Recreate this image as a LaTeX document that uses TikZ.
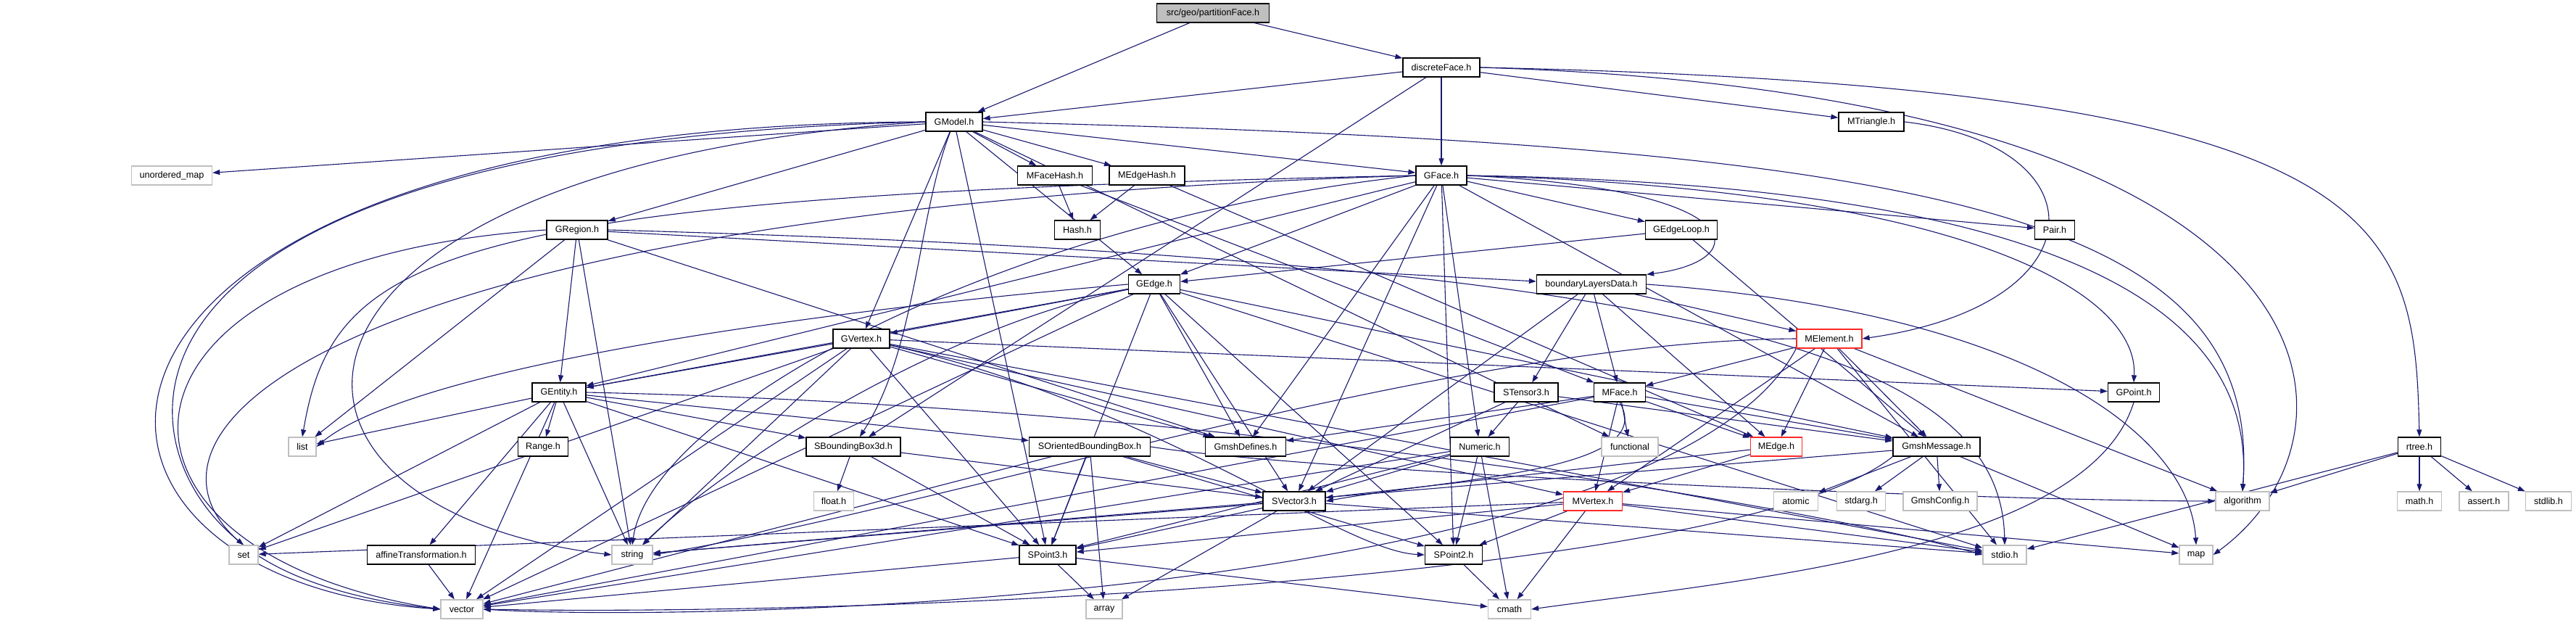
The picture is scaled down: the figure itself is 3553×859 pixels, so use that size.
\documentclass[tikz,border=0pt]{standalone}
\usepackage{fontspec}
\setmainfont{Liberation Sans}
\definecolor{EdgeBlue}{RGB}{25,25,112}
\definecolor{SysGray}{RGB}{191,191,191}
\definecolor{TruncRed}{RGB}{255,40,40}
\usepackage{tikz}
\usetikzlibrary{arrows.meta, backgrounds}

\begin{document}
\begin{tikzpicture}[x=1pt, y=-1pt,
  hdr/.style={draw=black, fill=white, line width=1.3pt, minimum height=26pt,
              inner sep=0pt, font=\fontsize{12.6}{14}\selectfont},
  sys/.style={hdr, draw=SysGray},
  trunc/.style={hdr, draw=TruncRed},
  root/.style={hdr, fill=SysGray},
  dep/.style={draw=EdgeBlue, line width=1.1pt, -{Triangle[length=10pt, width=7pt]}}]
  \useasboundingbox (0,0) rectangle (3553,859);

  \node[root, minimum width=155pt] (partitionFace) at (1673,18) {src/geo/partitionFace.h};
  \node[hdr, minimum width=106pt] (discreteFace) at (1988,93) {discreteFace.h};
  \node[hdr, minimum width=78pt] (GModel) at (1316,168) {GModel.h};
  \node[hdr, minimum width=90pt] (MTriangle) at (2581,168) {MTriangle.h};
  \node[sys, minimum width=111pt] (unorderedmap) at (237,242) {unordered\_map};
  \node[hdr, minimum width=103pt] (MFaceHash) at (1455,242) {MFaceHash.h};
  \node[hdr, minimum width=104pt] (MEdgeHash) at (1582,242) {MEdgeHash.h};
  \node[hdr, minimum width=70pt] (GFace) at (1988,242) {GFace.h};
  \node[hdr, minimum width=84pt] (GRegion) at (796,317) {GRegion.h};
  \node[hdr, minimum width=63pt] (Hash) at (1486,317) {Hash.h};
  \node[hdr, minimum width=99pt] (GEdgeLoop) at (2319,317) {GEdgeLoop.h};
  \node[hdr, minimum width=55pt] (Pair) at (2834,317) {Pair.h};
  \node[hdr, minimum width=71pt] (GEdge) at (1592,392) {GEdge.h};
  \node[hdr, minimum width=151pt] (bLayers) at (2195,392) {boundaryLayersData.h};
  \node[hdr, minimum width=78pt] (GVertex) at (1188,467) {GVertex.h};
  \node[trunc, minimum width=90pt] (MElement) at (2523,467) {MElement.h};
  \node[hdr, minimum width=74pt] (GEntity) at (771,541) {GEntity.h};
  \node[hdr, minimum width=88pt] (STensor) at (2105,541) {STensor3.h};
  \node[hdr, minimum width=71pt] (MFace) at (2234,541) {MFace.h};
  \node[hdr, minimum width=71pt] (GPoint) at (2943,541) {GPoint.h};
  \node[sys, minimum width=38pt] (list) at (417,616) {list};
  \node[hdr, minimum width=69pt] (Range) at (749,616) {Range.h};
  \node[hdr, minimum width=130pt] (SBBox) at (1177,616) {SBoundingBox3d.h};
  \node[hdr, minimum width=167pt] (SOBBox) at (1503,616) {SOrientedBoundingBox.h};
  \node[hdr, minimum width=111pt] (GmshDefines) at (1718,616) {GmshDefines.h};
  \node[hdr, minimum width=81pt] (Numeric) at (2041,616) {Numeric.h};
  \node[sys, minimum width=78pt] (functional) at (2248,616) {functional};
  \node[trunc, minimum width=71pt] (MEdge) at (2450,616) {MEdge.h};
  \node[hdr, minimum width=120pt] (GmshMessage) at (2671,616) {GmshMessage.h};
  \node[hdr, minimum width=59pt] (rtree) at (3337,616) {rtree.h};
  \node[sys, minimum width=55pt] (float) at (1150,691) {float.h};
  \node[hdr, minimum width=86pt] (SVector) at (1785,691) {SVector3.h};
  \node[trunc, minimum width=81pt] (MVertex) at (2197,691) {MVertex.h};
  \node[sys, minimum width=61pt] (atomic) at (2477,691) {atomic};
  \node[sys, minimum width=67pt] (stdarg) at (2567,691) {stdarg.h};
  \node[sys, minimum width=102pt] (GmshConfig) at (2676,691) {GmshConfig.h};
  \node[sys, minimum width=74pt] (algorithm) at (3093,691) {algorithm};
  \node[sys, minimum width=61pt] (mathh) at (3337,691) {math.h};
  \node[sys, minimum width=68pt] (asserth) at (3426,691) {assert.h};
  \node[sys, minimum width=63pt] (stdlibh) at (3515,691) {stdlib.h};
  \node[sys, minimum width=40pt] (set) at (336,765) {set};
  \node[hdr, minimum width=149pt] (affine) at (581,765) {affineTransformation.h};
  \node[sys, minimum width=56pt] (string) at (872,765) {string};
  \node[hdr, minimum width=78pt] (SPoint3) at (1445,765) {SPoint3.h};
  \node[hdr, minimum width=79pt] (SPoint2) at (2005,765) {SPoint2.h};
  \node[sys, minimum width=60pt] (stdio) at (2765,765) {stdio.h};
  \node[sys, minimum width=46pt] (map) at (3029,765) {map};
  \node[sys, minimum width=58pt] (vector) at (637,840) {vector};
  \node[sys, minimum width=50pt] (array) at (1523,840) {array};
  \node[sys, minimum width=59pt] (cmath) at (2082,840) {cmath};

  \begin{scope}[on background layer]
    \foreach \s/\t in {partitionFace/GModel, partitionFace/discreteFace,
        discreteFace/GModel, discreteFace/GFace, discreteFace/MTriangle, discreteFace/SBBox,
        GModel/unorderedmap, GModel/MFaceHash, GModel/MEdgeHash, GModel/GFace, GModel/GRegion,
        GModel/GEdge, GModel/GVertex, GModel/SPoint3, GModel/functional,
        MFaceHash/Hash, MFaceHash/MFace, MEdgeHash/Hash, MEdgeHash/MEdge,
        GFace/GEdge, GFace/GEdgeLoop, GFace/Pair, GFace/GEntity, GFace/SPoint2,
        GFace/SVector, GFace/Numeric, GFace/GmshDefines, GFace/GmshMessage,
        GRegion/GEntity, GRegion/list, GRegion/string, GRegion/bLayers, GRegion/GmshDefines,
        GEdgeLoop/GEdge, GEdgeLoop/GmshMessage,
        GEdge/GVertex, GEdge/GEntity, GEdge/GmshDefines, GEdge/SVector, GEdge/SPoint3, GEdge/SPoint2,
        GEdge/vector, GEdge/stdio, GEdge/GmshMessage,
        GVertex/GEntity, GVertex/GPoint, GVertex/SPoint3, GVertex/GmshDefines,
        GVertex/string, GVertex/vector, GVertex/set, GVertex/stdio, GVertex/MVertex,
        bLayers/SVector, bLayers/STensor, bLayers/MElement, bLayers/MEdge, bLayers/MFace,
        MElement/MFace, MElement/MEdge, MElement/MVertex, MElement/GmshMessage, MElement/stdio,
        MElement/algorithm,
        GEntity/list, GEntity/Range, GEntity/set, GEntity/affine, GEntity/string, GEntity/vector,
        GEntity/SBBox, GEntity/SOBBox, GEntity/SPoint3,
        STensor/SVector, STensor/Numeric, STensor/GmshMessage,
        MFace/functional, MFace/MEdge, MFace/MVertex, MFace/GmshMessage, MFace/vector, MFace/GmshDefines,
        MEdge/MVertex, MEdge/SVector,
        MVertex/SPoint3, MVertex/SPoint2, MVertex/cmath, MVertex/stdio, MVertex/map, MVertex/set,
        GmshMessage/atomic, GmshMessage/stdarg, GmshMessage/GmshConfig, GmshMessage/map,
        GmshMessage/string,
        Numeric/SVector, Numeric/SPoint2, Numeric/SPoint3, Numeric/cmath, Numeric/vector,
        SBBox/float, SBBox/SPoint3, SBBox/SVector,
        SOBBox/SVector, SOBBox/SPoint3, SOBBox/SPoint2, SOBBox/vector, SOBBox/array,
        SVector/SPoint3, SVector/array, SVector/string, SVector/stdio,
        SPoint3/array, SPoint3/cmath, SPoint3/vector, SPoint2/cmath,
        rtree/algorithm, rtree/mathh, rtree/asserth, rtree/stdlibh, rtree/stdio,
        affine/vector}
      \draw[dep] (\s) -- (\t);

    \draw[dep] (GModel.west) .. controls (5,172) and (5,800) .. (vector.west);
    \draw[dep] (GModel.west) .. controls (130,195) and (150,600) .. (set.north);
    \draw[dep] (GModel.west) .. controls (330,230) and (300,700) .. (string.west);
    \draw[dep] (GModel) .. controls (1265,300) and (1265,480) .. (SBBox);
    \draw[dep] (GModel.east) .. controls (2700,200) and (3120,300) .. (algorithm.north);
    \draw[dep] (GFace.west) .. controls (60,300) and (50,780) .. (vector.west);
    \draw[dep] (GFace.west) .. controls (600,270) and (460,350) .. (list.north);
    \draw[dep] (GFace.west) .. controls (1400,300) and (900,560) .. (string.north);
    \draw[dep] (GFace.east) .. controls (2700,260) and (2950,400) .. (GPoint.north);
    \draw[dep] (GFace.east) .. controls (2420,260) and (2420,360) .. (bLayers.north east);
    \draw[dep] (GFace.east) .. controls (2900,255) and (3110,450) .. (algorithm.north);
    \draw[dep] (GRegion.west) .. controls (110,360) and (100,760) .. (vector.west);
    \draw[dep] (GRegion.east) .. controls (2400,360) and (2760,500) .. (stdio.north);
    \draw[dep] (GEdge.west) .. controls (1000,440) and (550,520) .. (list.east);
    \draw[dep] (GEdge) .. controls (1300,450) and (1000,640) .. (string);
    \draw[dep] (GVertex) .. controls (1600,560) and (1850,760) .. (SPoint2.west);
    \draw[dep] (discreteFace.east) .. controls (3300,120) and (3330,300) .. (rtree.north);
    \draw[dep] (discreteFace.east) .. controls (3260,130) and (3280,600) .. (map.east);
    \draw[dep] (MTriangle.east) .. controls (2900,200) and (2900,420) .. (MElement.east);
    \draw[dep] (bLayers.east) .. controls (2800,430) and (3020,600) .. (map.north);
    \draw[dep] (MElement.west) .. controls (2000,470) and (1300,700) .. (string.east);
    \draw[dep] (MElement.south west) .. controls (2300,820) and (1000,860) .. (vector.east);
    \draw[dep] (GmshMessage.south west) .. controls (2400,800) and (1200,850) .. (vector.east);
    \draw[dep] (GEntity.east) .. controls (1700,560) and (2500,700) .. (stdio.west);
    \draw[dep] (MFace.south) .. controls (2290,650) and (2000,660) .. (SVector.east);
    \draw[dep] (SOBBox.east) .. controls (1800,650) and (2700,690) .. (algorithm.west);
    \draw[dep] (GPoint.south) .. controls (2880,760) and (2400,800) .. (cmath.east);
  \end{scope}
\end{tikzpicture}
\end{document}
